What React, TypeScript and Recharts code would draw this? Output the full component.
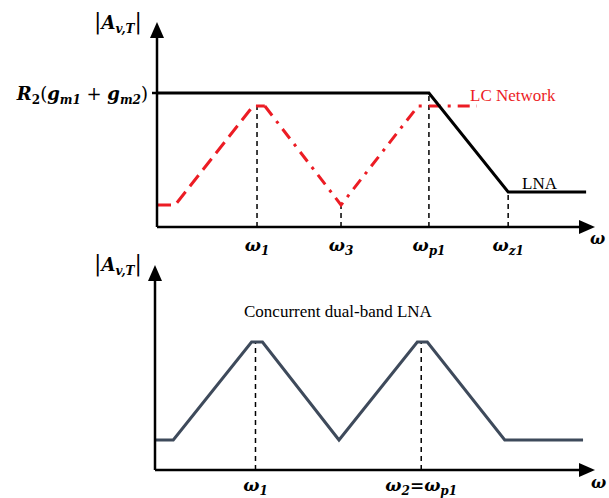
// Gain sketch of a dual-band LNA: single LNA + LC network above, combined response below.
import React from 'react';
import { LineChart, Line, XAxis, YAxis, ReferenceLine } from 'recharts';

// ---- upper panel ----
const lnaX = [0, 6.28, 8.11, 9.91];
const lnaY = [6.7, 6.7, 1.75, 1.75];

const lcRiseX = [0, 0.42, 2.22, 2.49];
const lcRiseY = [1.1, 1.1, 6.05, 6.05];
const lcFallX = [2.49, 4.25, 6.03, 7.39];
const lcFallY = [6.05, 1.1, 6.05, 6.05];

const topTicks = [2.31, 4.25, 6.28, 8.11];
const topTickSubs = ['1', '3', 'p1', 'z1'];
const topGuideTops = [6.05, 1.1, 6.7, 1.75];
const gainLevel = 6.7;

// ---- lower panel ----
const dualX = [0, 0.42, 2.22, 2.47, 4.23, 6.03, 6.26, 8.04, 9.84];
const dualY = [1.5, 1.5, 6.4, 6.4, 1.5, 6.4, 6.4, 1.5, 1.5];

const bottomTicks = [2.31, 6.12];
const bottomTickSubs = ['1', '2'];
const bottomGuideTops = [6.4, 6.4];

const zip = (xs: number[], ys: number[]) => xs.map((x, i) => ({ x, y: ys[i] }));

const MATH = '"DejaVu Serif", "Liberation Serif", serif';
const TEXT = '"Liberation Serif", serif';
const RED = '#ec1c24';
const SLATE = '#3e4a5b';

const W = 609;

function Arrow({ id }: { id: string }) {
  return (
    <defs>
      <marker
        id={id}
        viewBox="0 0 16 14"
        refX={11}
        refY={7}
        markerWidth={16}
        markerHeight={14}
        markerUnits="userSpaceOnUse"
        orient="auto-start-reverse"
      >
        <path d="M0,0 L16,7 L0,14 z" fill="#000" />
      </marker>
    </defs>
  );
}

function GainLabel({ x, y }: { x: number; y: number }) {
  return (
    <text x={x} y={y} fontFamily={MATH} fontSize={18} fontWeight="bold" fill="#000">
      <tspan fontWeight="normal" fontSize={22}>|</tspan>
      <tspan fontStyle="italic">A</tspan>
      <tspan fontStyle="italic" fontSize={12} dy={4}>v,T</tspan>
      <tspan fontWeight="normal" fontSize={22} dy={-4}>|</tspan>
    </text>
  );
}

function OmegaTick(props: any, subs: string[], ticks: number[], isBottom: boolean, dy: number) {
  const { x, y, payload } = props;
  const i = ticks.indexOf(payload.value);
  const sub = subs[i] ?? '';
  if (isBottom && i === 1) {
    return (
      <text x={x} y={y + dy} textAnchor="middle" fontFamily={MATH} fontWeight="bold" fontStyle="italic" fontSize={17} fill="#000">
        <tspan>ω</tspan>
        <tspan fontSize={12} dy={4}>2</tspan>
        <tspan dy={-4}>=ω</tspan>
        <tspan fontSize={12} dy={4}>p1</tspan>
      </text>
    );
  }
  return (
    <text x={x} y={y + dy} textAnchor="middle" fontFamily={MATH} fontWeight="bold" fontStyle="italic" fontSize={17} fill="#000">
      <tspan>ω</tspan>
      <tspan fontSize={12} dy={4}>{sub}</tspan>
    </text>
  );
}

function GainTick(props: any) {
  const { x, y } = props;
  return (
    <text x={x - 2} y={y + 7} textAnchor="end" fontFamily={MATH} fontWeight="bold" fontSize={18} fill="#000">
      <tspan fontStyle="italic">R</tspan>
      <tspan fontSize={12} dy={4}>2</tspan>
      <tspan dy={-4} fontWeight="normal">(</tspan>
      <tspan fontStyle="italic">g</tspan>
      <tspan fontStyle="italic" fontSize={12} dy={4}>m1</tspan>
      <tspan dy={-4} fontWeight="normal"> + </tspan>
      <tspan fontStyle="italic">g</tspan>
      <tspan fontStyle="italic" fontSize={12} dy={4}>m2</tspan>
      <tspan dy={-4} fontWeight="normal">)</tspan>
    </text>
  );
}

function TopPanel() {
  return (
    <LineChart width={W} height={262} margin={{ top: 27, right: 19, bottom: 0, left: 0 }}>
      <Arrow id="arrowTop" />
      <XAxis
        type="number"
        dataKey="x"
        domain={[0, 10]}
        ticks={topTicks}
        height={35}
        tickLine={false}
        axisLine={{ stroke: '#000', strokeWidth: 2.5, markerEnd: 'url(#arrowTop)' }}
        tick={(p: any) => OmegaTick(p, topTickSubs, topTicks, false, 16)}
      />
      <YAxis
        type="number"
        dataKey="y"
        domain={[0, 10]}
        ticks={[gainLevel]}
        width={157}
        tickSize={5}
        tickLine={{ stroke: '#000', strokeWidth: 2.5 }}
        axisLine={{ stroke: '#000', strokeWidth: 2.5, markerStart: 'url(#arrowTop)' }}
        tick={GainTick}
      />
      {topTicks.map((t, i) => (
        <ReferenceLine
          key={t}
          segment={[{ x: t, y: 0 }, { x: t, y: topGuideTops[i] }]}
          stroke="#000"
          strokeWidth={1.5}
          strokeDasharray="5 4"
        />
      ))}
      <Line
        data={zip(lcRiseX, lcRiseY)}
        dataKey="y"
        type="linear"
        stroke={RED}
        strokeWidth={3}
        strokeDasharray="14 7"
        dot={false}
        isAnimationActive={false}
      />
      <Line
        data={zip(lcFallX, lcFallY)}
        dataKey="y"
        type="linear"
        stroke={RED}
        strokeWidth={3}
        strokeDasharray="12 7 3 7"
        dot={false}
        isAnimationActive={false}
      />
      <Line
        data={zip(lnaX, lnaY)}
        dataKey="y"
        type="linear"
        stroke="#000"
        strokeWidth={3}
        dot={false}
        isAnimationActive={false}
      />
      <GainLabel x={94} y={29} />
      <text x={470} y={101} fontFamily={TEXT} fontSize={17} fill={RED}>LC Network</text>
      <text x={522} y={189} fontFamily={TEXT} fontSize={17} fill="#000">LNA</text>
      <text x={590} y={244} fontFamily={MATH} fontWeight="bold" fontStyle="italic" fontSize={16} fill="#000">ω</text>
    </LineChart>
  );
}

function BottomPanel() {
  return (
    <LineChart width={W} height={248} margin={{ top: 20, right: 19, bottom: 0, left: 0 }}>
      <Arrow id="arrowBottom" />
      <XAxis
        type="number"
        dataKey="x"
        domain={[0, 10]}
        ticks={bottomTicks}
        height={28}
        tickLine={false}
        axisLine={{ stroke: '#000', strokeWidth: 2.5, markerEnd: 'url(#arrowBottom)' }}
        tick={(p: any) => OmegaTick(p, bottomTickSubs, bottomTicks, true, 13)}
      />
      <YAxis
        type="number"
        dataKey="y"
        domain={[0, 10]}
        width={155}
        tick={false}
        tickLine={false}
        axisLine={{ stroke: '#000', strokeWidth: 2.5, markerStart: 'url(#arrowBottom)' }}
      />
      {bottomTicks.map((t, i) => (
        <ReferenceLine
          key={t}
          segment={[{ x: t, y: 0 }, { x: t, y: bottomGuideTops[i] }]}
          stroke="#000"
          strokeWidth={1.5}
          strokeDasharray="5 4"
        />
      ))}
      <Line
        data={zip(dualX, dualY)}
        dataKey="y"
        type="linear"
        stroke={SLATE}
        strokeWidth={3}
        dot={false}
        isAnimationActive={false}
      />
      <GainLabel x={94} y={21} />
      <text x={244} y={67} fontFamily={TEXT} fontSize={17} fill="#000">Concurrent dual-band LNA</text>
      <text x={591} y={238} fontFamily={MATH} fontWeight="bold" fontStyle="italic" fontSize={16} fill="#000">ω</text>
    </LineChart>
  );
}

export default function App() {
  return (
    <div style={{ position: 'absolute', left: 0, top: 0, width: W, height: 498, background: '#fff', overflow: 'hidden' }}>
      <div style={{ position: 'absolute', left: 0, top: 0 }}>
        <TopPanel />
      </div>
      <div style={{ position: 'absolute', left: 0, top: 250 }}>
        <BottomPanel />
      </div>
    </div>
  );
}
